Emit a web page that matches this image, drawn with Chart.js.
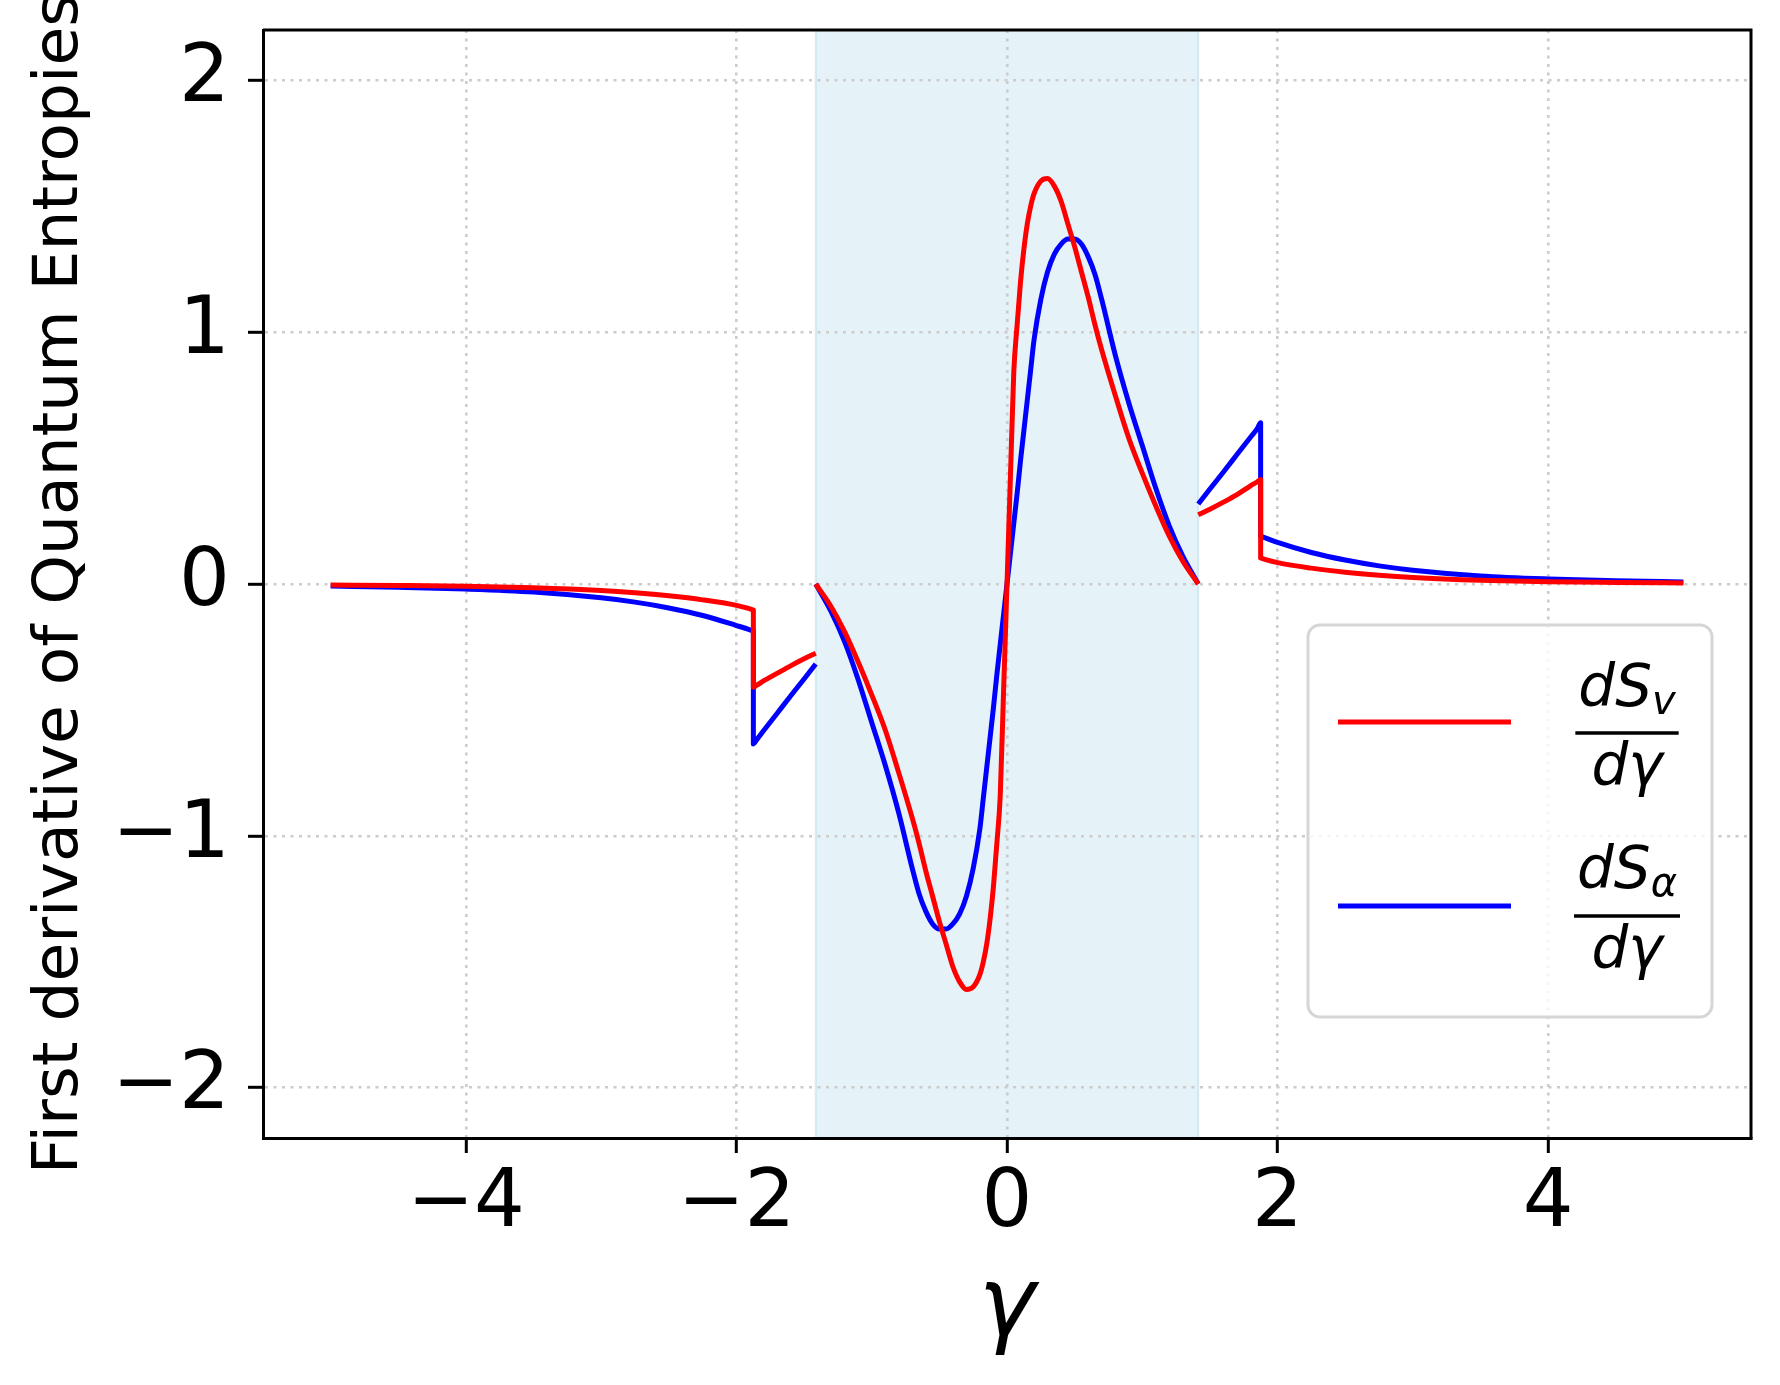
<!DOCTYPE html>
<html>
<head>
<meta charset="utf-8">
<script src="https://cdn.jsdelivr.net/npm/chart.js@4.4.1/dist/chart.umd.min.js"></script>
<style>
  html, body { margin: 0; padding: 0; background: #fff; }
  #wrap { position: relative; width: 1780px; height: 1385px; }
</style>
</head>
<body>
<div id="wrap"><canvas id="chart"></canvas></div>
<script>
// First derivative of the quantum entropies vs gamma
// null entries break the curves at the edges of the shaded band

// gamma grid: left tail | jump -> band edge | gap | band | gap | band edge -> jump | right tail
var gamma = [
  -5, -4.5, -4, -3.5, -3, -2.75, -2.5, -2.25, -2, -1.9, -1.875,
  -1.875, -1.85, -1.8, -1.7, -1.6, -1.5, -1.414,
  -1.414,
  -1.414, -1.3, -1.2, -1.1, -1.0, -0.9, -0.8, -0.7, -0.65, -0.6, -0.55, -0.5, -0.45, -0.4,
  -0.35, -0.3, -0.25, -0.2, -0.175, -0.15, -0.125, -0.1, -0.075, -0.05, -0.025,
  0,
  0.025, 0.05, 0.075, 0.1, 0.125, 0.15, 0.175, 0.2, 0.25, 0.3, 0.35,
  0.4, 0.45, 0.5, 0.55, 0.6, 0.65, 0.7, 0.8, 0.9, 1.0, 1.1, 1.2, 1.3, 1.414,
  1.414,
  1.414, 1.5, 1.6, 1.7, 1.8, 1.85, 1.875,
  1.875, 1.9, 2, 2.25, 2.5, 2.75, 3, 3.5, 4, 4.5, 5
];

var dSv = [
  -0.004, -0.006, -0.009, -0.015, -0.026, -0.035, -0.047, -0.063, -0.085, -0.099, -0.103,
  -0.41, -0.402, -0.385, -0.355, -0.325, -0.297, -0.275,
  null,
  0, -0.09, -0.19, -0.31, -0.44, -0.58, -0.75, -0.93, -1.03, -1.14, -1.24, -1.34, -1.43, -1.52,
  -1.58, -1.61, -1.60, -1.55, -1.5, -1.43, -1.33, -1.2, -1.03, -0.84, -0.42,
  0,
  0.42, 0.84, 1.03, 1.2, 1.33, 1.43, 1.5, 1.55, 1.60, 1.61, 1.58,
  1.52, 1.43, 1.34, 1.24, 1.14, 1.03, 0.93, 0.75, 0.58, 0.44, 0.31, 0.19, 0.09, 0,
  null,
  0.275, 0.297, 0.325, 0.355, 0.39, 0.406, 0.415,
  0.103, 0.099, 0.085, 0.063, 0.047, 0.035, 0.026, 0.015, 0.009, 0.006, 0.004
];

var dSalpha = [
  -0.008, -0.013, -0.02, -0.032, -0.055, -0.072, -0.095, -0.125, -0.165, -0.182, -0.187,
  -0.635, -0.618, -0.583, -0.514, -0.445, -0.377, -0.318,
  null,
  0, -0.11, -0.23, -0.38, -0.55, -0.72, -0.91, -1.13, -1.23, -1.30, -1.35, -1.37, -1.37, -1.35,
  -1.31, -1.24, -1.13, -0.97, -0.85, -0.73, -0.61, -0.49, -0.36, -0.24, -0.12,
  0,
  0.12, 0.24, 0.36, 0.49, 0.61, 0.73, 0.85, 0.97, 1.13, 1.24, 1.31,
  1.35, 1.37, 1.37, 1.35, 1.30, 1.23, 1.13, 0.91, 0.72, 0.55, 0.38, 0.23, 0.11, 0,
  null,
  0.318, 0.377, 0.445, 0.514, 0.583, 0.617, 0.64,
  0.19, 0.185, 0.165, 0.125, 0.095, 0.072, 0.055, 0.032, 0.02, 0.013, 0.008
];

var xTicks = [-4, -2, 0, 2, 4];
var yTicks = [-2, -1, 0, 1, 2];

// shaded region in gamma units
var bandLo = -1.414;
var bandHi = 1.414;

var seriesColors = ["#ff0000", "#0000ff"];
var seriesSubs = ["v", "\u03b1"];

var FONT = "'DejaVu Sans', sans-serif";

function toPoints(ys) {
  return gamma.map(function (g, i) {
    return { x: g, y: ys[i] };
  });
}

function minusSign(v) {
  return String(v).replace("-", "\u2212");
}

// light blue band, drawn before grid and lines
var bandPlugin = {
  id: "band",
  beforeDraw: function (chart) {
    var ctx = chart.ctx;
    var area = chart.chartArea;
    var x = chart.scales.x;
    var x1 = x.getPixelForValue(bandLo);
    var x2 = x.getPixelForValue(bandHi);
    ctx.save();
    ctx.fillStyle = "rgba(173, 216, 230, 0.32)";
    ctx.fillRect(x1, area.top, x2 - x1, area.bottom - area.top);
    ctx.strokeStyle = "rgba(173, 216, 230, 0.45)";
    ctx.lineWidth = 2;
    ctx.beginPath();
    ctx.moveTo(x1, area.top);
    ctx.lineTo(x1, area.bottom);
    ctx.moveTo(x2, area.top);
    ctx.lineTo(x2, area.bottom);
    ctx.stroke();
    ctx.restore();
  }
};

// top/right spines plus the legend with fraction labels
var framePlugin = {
  id: "frame",
  afterDraw: function (chart) {
    var ctx = chart.ctx;
    var a = chart.chartArea;
    ctx.save();
    ctx.strokeStyle = "#000";
    ctx.lineWidth = 3;
    ctx.beginPath();
    ctx.moveTo(a.left, a.top);
    ctx.lineTo(a.right, a.top);
    ctx.lineTo(a.right, a.bottom);
    ctx.stroke();

    // legend box
    ctx.beginPath();
    ctx.roundRect(1308, 625, 404, 392, 12);
    ctx.fillStyle = "rgba(255, 255, 255, 0.8)";
    ctx.fill();
    ctx.strokeStyle = "#d6d6d6";
    ctx.lineWidth = 3;
    ctx.stroke();

    var rows = [
      { lineY: 722, numBase: 706, barY: 733, denBase: 785 },
      { lineY: 906, numBase: 888, barY: 916, denBase: 968 }
    ];
    rows.forEach(function (r, i) {
      ctx.strokeStyle = seriesColors[i];
      ctx.lineWidth = 5;
      ctx.beginPath();
      ctx.moveTo(1338, r.lineY);
      ctx.lineTo(1511, r.lineY);
      ctx.stroke();
      drawFraction(ctx, 1627, r, seriesSubs[i]);
    });
    ctx.restore();
  }
};

function drawFraction(ctx, cx, r, sub) {
  var big = "italic 58px " + FONT;
  var small = "italic 40px " + FONT;
  ctx.fillStyle = "#000";
  ctx.textBaseline = "alphabetic";
  ctx.textAlign = "left";
  ctx.font = big;
  var wMain = ctx.measureText("dS").width;
  ctx.font = small;
  var wSub = ctx.measureText(sub).width;
  var total = wMain + wSub;
  var x0 = cx - total / 2;
  ctx.font = big;
  ctx.fillText("dS", x0, r.numBase);
  ctx.font = small;
  ctx.fillText(sub, x0 + wMain, r.numBase + 8);
  var barW = total + 6;
  ctx.fillRect(cx - barW / 2, r.barY - 1.75, barW, 3.5);
  ctx.font = big;
  ctx.textAlign = "center";
  ctx.fillText("d\u03b3", cx, r.denBase);
}

function lineSet(label, ys, color) {
  return {
    label: label,
    data: toPoints(ys),
    borderColor: color,
    borderWidth: 5,
    pointRadius: 0,
    cubicInterpolationMode: "monotone",
    spanGaps: false,
    borderJoinStyle: "round",
    fill: false
  };
}

var ctx = document.getElementById("chart").getContext("2d");

new Chart(ctx, {
  type: "line",
  data: {
    datasets: [
      lineSet("dSv/d\u03b3", dSv, seriesColors[0]),
      lineSet("dS\u03b1/d\u03b3", dSalpha, seriesColors[1])
    ]
  },
  options: {
    responsive: true,
    maintainAspectRatio: false,
    animation: false,
    layout: {
      padding: { top: 30, right: 29, left: 0, bottom: 0 }
    },
    plugins: {
      legend: { display: false },
      tooltip: { enabled: false }
    },
    scales: {
      x: {
        type: "linear",
        min: -5.5,
        max: 5.5,
        afterBuildTicks: function (axis) {
          axis.ticks = xTicks.map(function (v) { return { value: v }; });
        },
        afterFit: function (axis) {
          axis.height = 247;
          axis.paddingLeft = 0;
          axis.paddingRight = 0;
        },
        grid: {
          color: "#cccccc",
          lineWidth: 2.6,
          tickColor: "#000",
          tickWidth: 3,
          tickLength: 15
        },
        border: { color: "#000", width: 3, dash: [3, 5.5] },
        ticks: {
          color: "#000",
          padding: 4,
          maxRotation: 0,
          font: { family: FONT, size: 80 },
          callback: function (v) { return minusSign(v); }
        },
        title: {
          display: true,
          text: "\u03b3",
          color: "#000",
          font: { family: FONT, size: 96, style: "italic" },
          padding: { top: 0, bottom: 17 }
        }
      },
      y: {
        type: "linear",
        min: -2.2,
        max: 2.2,
        afterBuildTicks: function (axis) {
          axis.ticks = yTicks.map(function (v) { return { value: v }; });
        },
        afterFit: function (axis) {
          axis.width = 263;
          axis.paddingTop = 0;
          axis.paddingBottom = 0;
        },
        grid: {
          color: "#cccccc",
          lineWidth: 2.6,
          tickColor: "#000",
          tickWidth: 3,
          tickLength: 15
        },
        border: { color: "#000", width: 3, dash: [3, 5.5] },
        ticks: {
          color: "#000",
          padding: 18,
          font: { family: FONT, size: 80 },
          callback: function (v) { return minusSign(v); }
        },
        title: {
          display: true,
          text: "First derivative of Quantum Entropies",
          color: "#000",
          font: { family: FONT, size: 63 },
          padding: { top: 23, bottom: 0 }
        }
      }
    }
  },
  plugins: [bandPlugin, framePlugin]
});
</script>
</body>
</html>
